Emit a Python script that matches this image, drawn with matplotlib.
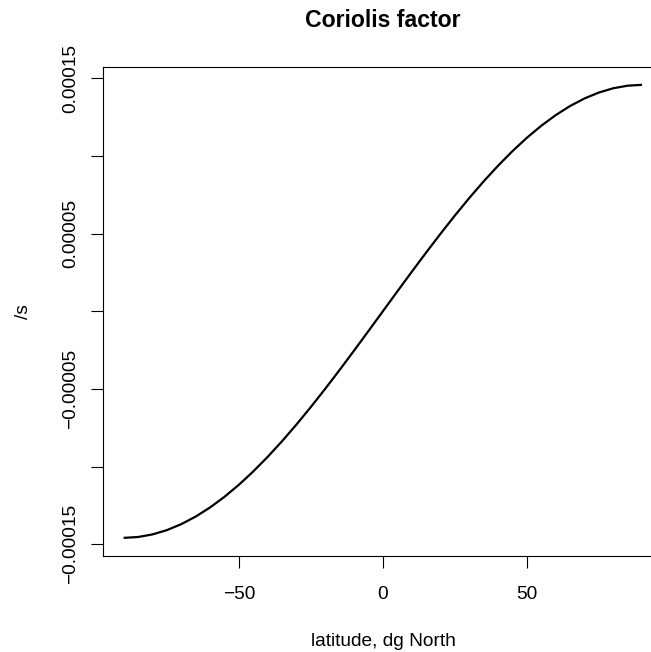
import matplotlib
matplotlib.use("Agg")
import matplotlib.pyplot as plt

# latitude (degrees North) and Coriolis factor (/s)
latitude = [-90, -85, -80, -75, -70, -65, -60, -55, -50, -45, -40, -35, -30, -25,
            -20, -15, -10, -5, 0, 5, 10, 15, 20, 25, 30, 35, 40, 45, 50, 55, 60,
            65, 70, 75, 80, 85, 90]
coriolis = [-1.458e-4, -1.4524e-4, -1.4359e-4, -1.4083e-4, -1.3701e-4, -1.3214e-4,
            -1.2627e-4, -1.1943e-4, -1.1169e-4, -1.0310e-4, -9.372e-5, -8.363e-5,
            -7.290e-5, -6.162e-5, -4.987e-5, -3.774e-5, -2.532e-5, -1.271e-5, 0.0,
            1.271e-5, 2.532e-5, 3.774e-5, 4.987e-5, 6.162e-5, 7.290e-5, 8.363e-5,
            9.372e-5, 1.0310e-4, 1.1169e-4, 1.1943e-4, 1.2627e-4, 1.3214e-4,
            1.3701e-4, 1.4083e-4, 1.4359e-4, 1.4524e-4, 1.458e-4]

x_ticks = [-50, 0, 50]
x_ticklabels = ["\u221250", "0", "50"]
y_ticks = [-1.5e-4, -1.0e-4, -5e-5, 0.0, 5e-5, 1.0e-4, 1.5e-4]
y_ticklabels = ["\u22120.00015", "", "\u22120.00005", "", "0.00005", "", "0.00015"]

title = "Coriolis factor"
xlabel = "latitude, dg North"
ylabel = "/s"

plt.rcParams['font.family'] = ['Liberation Sans', 'DejaVu Sans']

W, H = 651, 652
fig = plt.figure(figsize=(W / 100, H / 100), dpi=100, facecolor='white')

left, right, top, bottom = 102.8, 662.8, 66.7, 556.0
ax = fig.add_axes([left / W, (H - bottom) / H, (right - left) / W, (bottom - top) / H])

ax.plot(latitude, coriolis, color='black', linewidth=1.6, solid_capstyle='butt')

xr = max(latitude) - min(latitude)
ax.set_xlim(min(latitude) - 0.04 * xr, max(latitude) + 0.04 * xr)
yr = max(coriolis) - min(coriolis)
ax.set_ylim(min(coriolis) - 0.04 * yr, max(coriolis) + 0.04 * yr)

for s in ax.spines.values():
    s.set_linewidth(0.8)
    s.set_color('black')

fs = 13.8
ax.set_xticks(x_ticks)
ax.set_xticklabels(x_ticklabels, fontsize=fs)
ax.set_yticks(y_ticks)
ax.set_yticklabels(y_ticklabels, fontsize=fs)
ax.tick_params(axis='both', direction='out', length=8.6, width=0.8, color='black')
ax.tick_params(axis='x', pad=13.2)
ax.tick_params(axis='y', pad=8.4)
for lab in ax.get_yticklabels():
    lab.set_rotation(90)
    lab.set_va('center')
    lab.set_ha('right')

fig.text(383 / W, 1 - 27.3 / H, title, ha='center', va='baseline',
         fontsize=16.6, fontweight='bold')
fig.text(383 / W, 1 - 646 / H, xlabel, ha='center', va='baseline', fontsize=fs)
fig.text(28 / W, 1 - 311.7 / H, ylabel, ha='center', va='baseline', rotation=90,
         rotation_mode='anchor', fontsize=fs)

fig.savefig("out.png", dpi=100, facecolor='white')
